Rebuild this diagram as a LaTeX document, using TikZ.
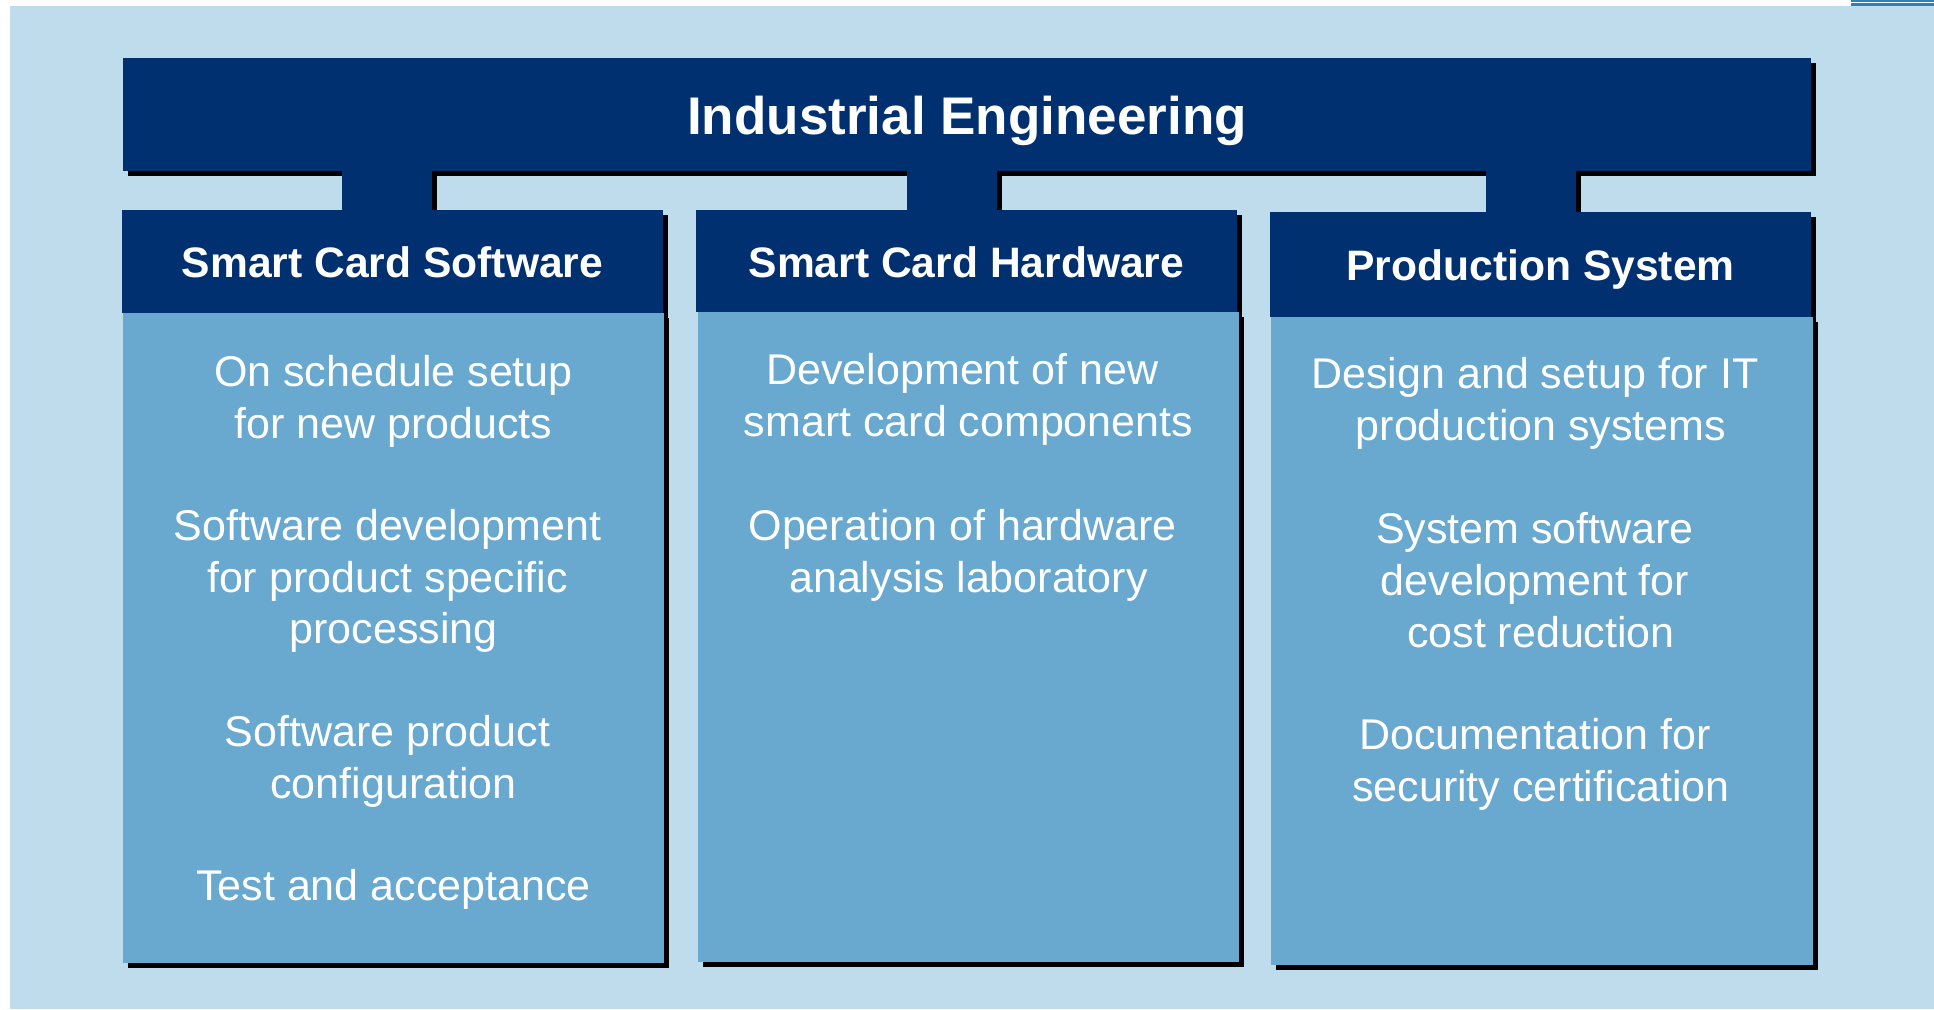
\documentclass[tikz,border=0pt]{standalone}
\usepackage{fontspec}
\setmainfont{Liberation Sans}
\definecolor{navy}{RGB}{0,48,112}
\definecolor{bodyblue}{RGB}{105,169,207}
\definecolor{bgblue}{RGB}{190,220,235}
\definecolor{lineblue}{RGB}{46,127,186}
\newcommand{\tsp}{\kern12pt}
\tikzset{
  shadowbox/.style={fill=black, shift={(5,5)}},
  navybox/.style={fill=navy},
  bodybox/.style={fill=bodyblue},
  titletext/.style={text=white, inner sep=0pt, font=\fontsize{53}{64}\selectfont\bfseries},
  headtext/.style={text=white, inner sep=0pt, font=\fontsize{42.6}{50}\selectfont\bfseries},
  bodytext/.style={text=white, inner sep=0pt, align=center, font=\fontsize{43}{51.8}\selectfont},
}
\begin{document}
\begin{tikzpicture}[x=1pt,y=-1pt]
\useasboundingbox (0,0) rectangle (1934,1009);
% background
\fill[white] (0,0) rectangle (1934,1009);
\fill[bgblue] (10,6) rectangle (1934,1009);
\fill[lineblue] (1851,0) rectangle (1934,2);
\fill[lineblue] (1851,3.4) rectangle (1934,6);
% shadows
\fill[shadowbox] (123,58) rectangle (1811,171);
\fill[shadowbox] (342,171) rectangle (432,210);
\fill[shadowbox] (907,171) rectangle (997,210);
\fill[shadowbox] (1486,171) rectangle (1576,212);
\fill[shadowbox] (122,210) rectangle (663,313);
\fill[shadowbox] (696,210) rectangle (1237,312);
\fill[shadowbox] (1270,212) rectangle (1811,317);
\fill[shadowbox] (123,313) rectangle (664,963);
\fill[shadowbox] (698,312) rectangle (1239,962);
\fill[shadowbox] (1271,317) rectangle (1813,965);
% title and stubs
\fill[navybox] (123,58) rectangle (1811,171);
\fill[navybox] (342,170) rectangle (432,211);
\fill[navybox] (907,170) rectangle (997,211);
\fill[navybox] (1486,170) rectangle (1576,213);
% headers
\fill[navybox] (122,210) rectangle (663,313);
\fill[navybox] (696,210) rectangle (1237,312);
\fill[navybox] (1270,212) rectangle (1811,317);
% bodies
\fill[bodybox] (123,313) rectangle (664,963);
\fill[bodybox] (698,312) rectangle (1239,962);
\fill[bodybox] (1271,317) rectangle (1813,965);
% texts
\node[titletext] (title) at (967,120.5) {Industrial Engineering};
\node[headtext] (hsw) at (392.5,262.5) {Smart Card Software};
\node[headtext] (hhw) at (966.5,262) {Smart Card Hardware};
\node[headtext] (hps) at (1540.5,269.5) {Production System};
% software body
\node[bodytext] (sw1) at (393.5,401) {On schedule setup\\for new products};
\node[bodytext] (sw2) at (393.5,581) {Software development\tsp\\for product specific\tsp\\processing};
\node[bodytext] (sw3) at (393.5,761) {Software product\tsp\\configuration};
\node[bodytext] (sw4) at (393.5,889) {Test and acceptance};
% hardware body
\node[bodytext] (hw1) at (968.5,399) {Development of new\tsp\\smart card components};
\node[bodytext] (hw2) at (968.5,555.5) {Operation of hardware\tsp\\analysis laboratory};
% production body
\node[bodytext] (ps1) at (1541,403.5) {Design and setup for IT\tsp\\production systems};
\node[bodytext] (ps2) at (1541,580) {System software\tsp\\development for\tsp\\cost reduction};
\node[bodytext] (ps3) at (1541,764.5) {Documentation for\tsp\\security certification};
\end{tikzpicture}
\end{document}
